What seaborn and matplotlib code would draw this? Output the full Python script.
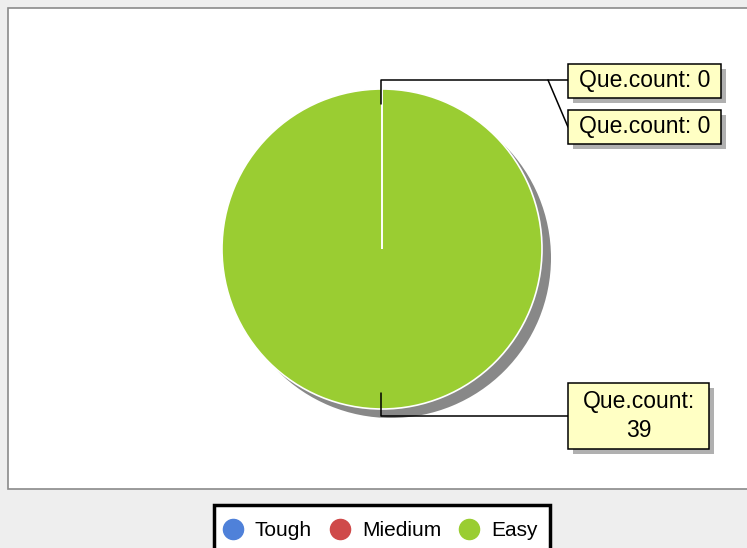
import matplotlib
matplotlib.use("Agg")
import matplotlib.pyplot as plt
import seaborn as sns
from matplotlib.patches import Rectangle
from matplotlib.lines import Line2D

sns.set_style("white")
plt.rcParams['font.family'] = ['Liberation Sans', 'DejaVu Sans']

categories = ["Tough", "Miedium", "Easy"]
counts = [0, 0, 39]
colors = ["#4F81D9", "#CF4A4A", "#9ACD32"]
label_texts = ["Que.count: 0", "Que.count: 0", "Que.count:\n39"]

W, H = 747, 548
fig = plt.figure(figsize=(W / 100, H / 100), dpi=100, facecolor="#EEEEEE")
ax = fig.add_axes([0, 0, 1, 1])
ax.set_facecolor("#EEEEEE")

def Y(py):
    return H - py

# plot area
ax.add_patch(Rectangle((8, Y(489)), 760, 481, facecolor="white",
                       edgecolor="#8A8A8A", linewidth=1.2, zorder=0))

cx, cy, r = 382, 249, 160
# shadow
ax.pie([sum(counts)], colors=["#888888"], startangle=90, counterclock=False,
       center=(cx + 9, Y(cy + 9)), radius=r, wedgeprops=dict(linewidth=0))
# pie
wedges, _ = ax.pie(counts, colors=colors, startangle=90, counterclock=False,
                   center=(cx, Y(cy)), radius=r,
                   wedgeprops=dict(edgecolor="white", linewidth=1.2))
for w, v in zip(wedges, counts):
    if v == 0:
        w.set_zorder(3)

# leader lines
lc = dict(color="black", linewidth=1.1, zorder=5)
ax.plot([381, 381, 548, 568], [Y(104), Y(80), Y(80), Y(80)], **lc)
ax.plot([548, 568], [Y(80), Y(127)], **lc)
ax.plot([381, 381, 568], [Y(393), Y(416), Y(416)], **lc)

# label boxes
boxes = [(568, 64, 721, 98), (568, 110, 721, 144), (568, 383, 709, 449)]
for (x0, y0, x1, y1), txt in zip(boxes, label_texts):
    ax.add_patch(Rectangle((x0 + 5, Y(y1 + 5)), x1 - x0, y1 - y0,
                           facecolor="#B0B0B0", edgecolor="none", zorder=6))
    ax.add_patch(Rectangle((x0, Y(y1)), x1 - x0, y1 - y0,
                           facecolor="#FFFFC4", edgecolor="black",
                           linewidth=1.1, zorder=7))
    ax.text((x0 + x1) / 2, Y((y0 + y1) / 2), txt, ha="center", va="center",
            fontsize=16.5, color="black", zorder=8, linespacing=1.3)

# legend frame
ax.add_patch(Rectangle((214, Y(560)), 336, 55, facecolor="white",
                       edgecolor="black", linewidth=2.5, zorder=9))
handles = [Line2D([0], [0], marker="o", linestyle="none", markersize=14.5,
                  markerfacecolor=c, markeredgecolor=c) for c in colors]
leg = ax.legend(handles, categories, loc="center left",
                bbox_to_anchor=(222.6, Y(531)), bbox_transform=ax.transData,
                ncol=3, frameon=False, fontsize=15, labelcolor="black",
                handletextpad=0.55, columnspacing=0.85, handlelength=1.0,
                borderpad=0, borderaxespad=0)
leg.set_zorder(10)

ax.set_xlim(0, W)
ax.set_ylim(0, H)
ax.set_aspect("auto")
ax.axis("off")

fig.savefig("out.png", dpi=100, facecolor=fig.get_facecolor())
